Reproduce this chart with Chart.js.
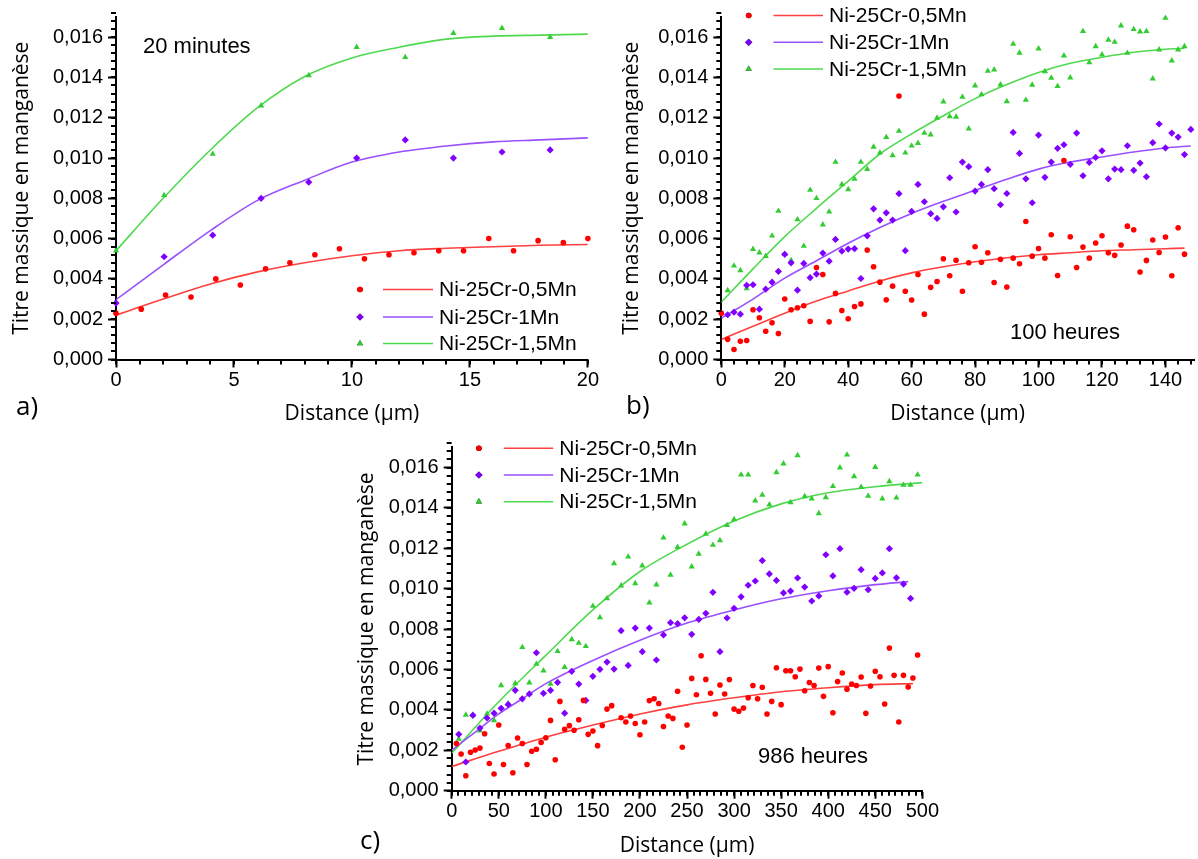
<!DOCTYPE html>
<html><head><meta charset="utf-8">
<script src="https://cdn.jsdelivr.net/npm/chart.js@4.4.1/dist/chart.umd.min.js"></script>
<style>
html,body{margin:0;padding:0;background:#fff;overflow:hidden;width:1198px;height:859px;}
body{position:relative;}
canvas{position:absolute;}
.t{position:absolute;white-space:nowrap;line-height:1;color:#000;}
.ann{font-family:"Liberation Sans",Arial,sans-serif;font-size:22px;}
.let{font-family:"Open Sans",sans-serif;font-size:26px;}
</style></head><body>
<canvas id="ca" width="600" height="430" style="left:0;top:0"></canvas>
<canvas id="cb" width="598" height="430" style="left:600px;top:0"></canvas>
<canvas id="cc" width="600" height="429" style="left:340px;top:430px"></canvas>
<div class="t ann" style="left:143px;top:35px">20 minutes</div>
<div class="t ann" style="left:1010px;top:321px">100 heures</div>
<div class="t ann" style="left:758px;top:745px">986 heures</div>
<div class="t let" style="left:16px;top:392px">a)</div>
<div class="t let" style="left:626px;top:391px">b)</div>
<div class="t let" style="left:360px;top:826px">c)</div>
<script>
// ---------- data : panel a (20 minutes) ----------
const SERIES = ['Ni-25Cr-0,5Mn','Ni-25Cr-1Mn','Ni-25Cr-1,5Mn'];
const A_RED_X = [0,1.07,2.1,3.18,4.23,5.27,6.34,7.37,8.43,9.47,10.53,11.57,12.63,13.68,14.73,15.8,16.85,17.89,18.96,20];
const A_RED_Y = [0.0023,0.0025,0.0032,0.0031,0.0040,0.0037,0.0045,0.0048,0.0052,0.0055,0.0050,0.0052,0.0053,0.0054,0.0054,0.0060,0.0054,0.0059,0.0058,0.0060];
const A_MN_X = [0,2.04,4.1,6.15,8.17,10.2,12.26,14.3,16.36,18.4];
const A_PUR_Y = [0.0028,0.0051,0.00617,0.0080,0.0088,0.0100,0.0109,0.0100,0.0103,0.0104];
const A_GRN_Y = [0.0054,0.00815,0.0102,0.0126,0.0141,0.0155,0.0150,0.0162,0.01645,0.0160];
const A_FIT_X = [0,2,4,6,8,10,12,14,16,18,20];
const A_FIT_RED = [0.0022,0.0030,0.00375,0.00435,0.0048,0.00515,0.0054,0.00552,0.0056,0.00567,0.00571];
const A_FIT_PUR = [0.00297,0.0047,0.0064,0.0079,0.0089,0.0098,0.0103,0.0106,0.0108,0.0109,0.0110];
const A_FIT_GRN = [0.0054,0.0080,0.0104,0.0125,0.01405,0.01497,0.0155,0.0159,0.01605,0.0161,0.01615];

// ---------- data : panel b (100 heures) ----------
const B_X = [0,2,4,6,8,10,12,14,16,18,20,22,24,26,28,30,32,34,36,38,40,42,44,46,48,50,52,54,56,58,60,62,64,66,68,70,72,74,76,78,80,82,84,86,88,90,92,94,96,98,100,102,104,106,108,110,112,114,116,118,120,122,124,126,128,130,132,134,136,138,140,142,144,146,148];
const B_RED = [0.0023,0.0010,0.0005,0.0009,0.00094,0.00247,0.00207,0.0014,0.00182,0.00129,0.0030,0.00247,0.00257,0.00267,0.00189,0.00457,0.00422,0.00187,0.00328,0.00243,0.00202,0.00263,0.00276,0.00543,0.0046,0.00384,0.00296,0.00364,0.01308,0.00339,0.00295,0.00422,0.00225,0.00358,0.00387,0.0050,0.00416,0.00493,0.00339,0.0048,0.0056,0.00483,0.0053,0.00382,0.00497,0.0036,0.00503,0.00475,0.00685,0.00513,0.00551,0.00503,0.00619,0.00417,0.00988,0.00609,0.00457,0.00558,0.00503,0.00578,0.00614,0.0053,0.00517,0.00568,0.00662,0.00644,0.00434,0.00492,0.00593,0.00531,0.00608,0.00416,0.00654,0.00523,null];
const B_PUR = [null,0.00222,0.00235,0.00225,0.00368,0.00371,0.0025,0.00349,0.00384,0.00437,0.00522,0.0048,0.00344,0.00477,0.00406,0.00424,0.00528,0.00488,0.00596,0.00538,0.00548,0.0055,0.00402,0.00614,0.00748,0.00692,0.00728,0.00692,0.00823,0.0054,0.00735,0.00869,0.00783,0.00724,0.0070,0.00758,0.00902,0.00732,0.0098,0.00957,0.00836,0.00869,0.00942,0.00848,0.00768,0.00824,0.01127,0.01023,0.00897,0.00778,0.01114,0.00904,0.0098,0.01048,0.01066,0.00969,0.01124,0.00912,0.00978,0.01003,0.01036,0.00897,0.00945,0.00942,0.01061,0.00939,0.00975,0.00907,0.01076,0.01169,0.0105,0.01124,0.01104,0.01017,0.01142];
const B_GRN = [null,0.00343,0.00465,0.00442,0.00353,0.00548,0.0053,0.00513,0.00614,0.00737,0.00523,0.00492,0.00695,0.00563,0.00841,0.0080,0.00669,0.00733,0.0098,0.00869,0.00844,0.00896,0.0098,0.00945,0.01055,0.01026,0.01103,0.01013,0.01134,0.01026,0.01061,0.01074,0.01124,0.01116,0.01199,0.0128,0.01207,0.01204,0.01303,0.01146,0.01359,0.01315,0.01432,0.01439,0.01364,0.01281,0.01566,0.01522,0.01288,0.01363,0.01543,0.0143,0.01398,0.01356,0.01508,0.01399,null,0.01629,0.01474,0.01554,0.01513,0.01586,0.01576,0.01657,0.01521,0.01639,0.01627,0.01629,0.01394,0.01538,0.01695,0.01483,0.01538,0.01554,null];
const B_FIT_X = [0,10,20,30,40,50,60,70,80,90,100,110,120,130,140,146];
const B_FIT_RED = [0.00099,0.00165,0.0023,0.0029,0.0034,0.0039,0.0043,0.0046,0.00485,0.00505,0.0052,0.0053,0.0054,0.00545,0.0055,0.00553];
const B_FIT_PUR_X = [0,10,20,30,40,50,60,70,80,90,100,110,120,130,140,148];
const B_FIT_PUR = [0.00205,0.0030,0.00404,0.0049,0.00577,0.00655,0.00725,0.00785,0.0084,0.00895,0.00945,0.0098,0.01005,0.0103,0.0105,0.0106];
const B_FIT_GRN = [0.00285,0.0045,0.0061,0.0075,0.00885,0.0102,0.0112,0.0121,0.01295,0.01365,0.01425,0.0147,0.0150,0.01525,0.0154,0.01545];

// ---------- data : panel c (986 heures) ----------
const C_RED_X = [5,10,15,20,25,30,35,40,45,50,55,60,65,70,75,80,85,90,95,100,105,110,115,120,125,130,135,140,145,150,155,160,165,170,180,185,190,195,200,205,210,215,220,225,230,235,240,245,250,255,260,265,270,275,280,285,290,295,300,305,310,315,320,325,330,335,340,345,350,355,360,365,370,375,380,385,390,395,400,405,410,415,420,425,430,435,440,445,450,455,460,465,470,475,480,485,490,495];
const C_RED = [0.00234,0.00182,0.00074,0.0019,0.00201,0.00211,0.00282,0.00135,0.00083,0.00325,0.0013,0.00224,0.00089,0.00261,0.00234,0.0013,0.00195,0.00205,0.00239,0.00262,0.00348,0.00153,0.00442,0.00304,0.00322,0.00299,0.00351,0.00447,0.00279,0.00295,0.00223,0.00323,0.00404,0.00421,0.00361,0.0034,0.0037,0.00333,0.00277,0.0034,0.00446,0.00455,0.00432,0.00318,0.0037,0.00358,0.00492,0.00215,0.00325,0.00556,0.00475,0.00668,0.00551,0.00482,0.0038,0.00523,0.00479,0.0055,0.00404,0.00393,0.00409,0.0046,0.00521,0.00455,0.00512,0.0038,0.00442,0.00609,0.00426,0.00594,0.00594,0.00564,0.00602,0.00495,0.00536,0.00521,0.00607,0.00467,0.00614,0.00386,0.0054,0.00583,0.00502,0.00528,0.00521,0.00563,0.00383,0.00518,0.00591,0.00564,0.00429,0.00706,0.00571,0.0034,0.00571,0.00513,0.00558,0.00672];
const C_MN_X = [7.5,15,22.5,30,37.5,45,52.5,60,67.5,75,82.5,90,97.5,105,112.5,120,127.5,135,142.5,150,157.5,165,172.5,180,187.5,195,202.5,210,217.5,225,232.5,240,247.5,255,262.5,270,277.5,285,292.5,300,307.5,315,322.5,330,337.5,345,352.5,360,367.5,375,382.5,390,397.5,405,412.5,420,427.5,435,442.5,450,457.5,465,472.5,480,487.5,495];
const C_PUR = [0.00279,0.00142,0.00373,0.0031,0.0036,0.00384,0.00408,0.00427,0.00497,0.00455,0.00479,0.00683,0.00482,0.00497,0.00536,0.00384,0.00591,0.00528,0.00447,0.00566,0.00601,0.00637,0.00602,0.00792,0.0062,0.00805,0.00688,0.00805,0.00647,0.00771,0.00832,0.00827,0.00856,0.00774,0.00848,0.00878,0.00982,0.00688,0.00855,0.00903,0.0096,0.01017,0.01038,0.01139,0.01073,0.01041,0.00979,0.00988,0.01053,0.01008,0.00939,0.00964,0.01168,0.01063,0.01198,0.00983,0.01002,0.01094,0.00995,0.01051,0.01078,0.01198,0.01054,0.01023,0.00952,null];
const C_GRN = [0.00256,0.00375,0.00375,0.00297,0.00381,0.00348,0.00521,0.00431,0.00531,0.0071,0.00535,0.00627,0.00594,0.00528,0.0069,0.00612,0.00749,0.00731,0.00715,0.00914,0.00858,0.00952,0.01125,0.01015,0.01158,0.01026,0.01114,0.00931,0.0102,0.01252,0.01068,0.01206,0.01322,0.01109,0.01172,0.01271,0.01216,0.01239,0.01314,0.01343,0.01564,0.01564,0.01436,0.01464,0.01416,0.01576,0.01619,0.01427,0.0166,0.01457,0.01446,0.01373,0.01452,0.01507,0.01599,0.01663,0.01556,0.01503,0.01459,0.01602,0.01446,0.01531,0.0145,0.01513,0.01513,0.01564];
const C_FIT_RED_X = [0,50,100,150,200,250,300,350,400,450,490];
const C_FIT_RED = [0.0012,0.00195,0.00265,0.00325,0.0038,0.00425,0.0046,0.0049,0.0051,0.00525,0.0053];
const C_FIT_PUR_X = [0,25,50,75,100,150,200,250,300,350,400,450,485];
const C_FIT_PUR = [0.0020,0.0029,0.0038,0.00455,0.0053,0.00645,0.00745,0.0083,0.00895,0.0095,0.0099,0.0102,0.01035];
const C_FIT_GRN_X = [0,50,100,150,200,250,300,350,400,450,500];
const C_FIT_GRN = [0.00185,0.0044,0.0067,0.00895,0.01085,0.0122,0.01335,0.0142,0.01475,0.01505,0.01525];

// ---------- styling ----------
const COL_PT = ['#ff0000','#8000ff','#33cc33'];
const COL_LN = ['#ff4040','#9a50ff','#4fd94f'];
const PSTYLE = ['circle','rectRot','triangle'];
const PRAD = [2.8,3.6,3.6];
const TICKF = '"Liberation Sans", Arial, sans-serif';
const TITLEF = '"Open Sans", sans-serif';

function pts(xs, ys){ const o=[]; for(let i=0;i<xs.length;i++){ if(ys[i]!==null && ys[i]!==undefined) o.push({x:xs[i],y:ys[i]}); } return o; }

const minorTicks = {
  id:'minorTicks',
  afterDraw(chart, args, o){
    const ctx=chart.ctx, xs=chart.scales.x, ys=chart.scales.y;
    ctx.save(); ctx.strokeStyle='#000'; ctx.lineWidth=2;
    const n = Math.round((xs.max-xs.min)/o.x);
    for(let i=0;i<=n;i++){ const v=xs.min+i*o.x; if(v>xs.max+1e-9) break; const p=Math.round(xs.getPixelForValue(v));
      ctx.beginPath(); ctx.moveTo(p, xs.top); ctx.lineTo(p, xs.top+5); ctx.stroke(); }
    const m = Math.round((ys.max-ys.min)/o.y);
    for(let i=0;i<=m;i++){ const v=ys.min+i*o.y; const p=Math.round(ys.getPixelForValue(v));
      ctx.beginPath(); ctx.moveTo(ys.right, p); ctx.lineTo(ys.right-5, p); ctx.stroke(); }
    ctx.restore();
  }
};
const legendBox = {
  id:'legendBox',
  afterDraw(chart, args, o){
    const ctx=chart.ctx; ctx.save();
    ctx.font = '21px '+TICKF; ctx.textBaseline='middle'; ctx.fillStyle='#000';
    for(let k=0;k<3;k++){
      const y=o.rows[k];
      Chart.helpers.drawPoint(ctx,{pointStyle:PSTYLE[k],radius:PRAD[k],borderWidth:0,rotation:0},o.mx,y);
      ctx.fillStyle=COL_PT[k]; ctx.fill();
      ctx.strokeStyle=COL_LN[k]; ctx.lineWidth=1.6; ctx.beginPath(); ctx.moveTo(o.lx1,y); ctx.lineTo(o.lx2,y); ctx.stroke();
      ctx.fillStyle='#000'; ctx.fillText(SERIES[k], o.tx, y+1);
    }
    ctx.restore();
  }
};

function build(id, cfg){
  const ds = [];
  cfg.fits.forEach((f,k)=>ds.push({type:'line', data:pts(f[0],f[1]), borderColor:COL_LN[k], borderWidth:1.6, pointRadius:0, fill:false, cubicInterpolationMode:'monotone', order:2}));
  cfg.points.forEach((p,k)=>ds.push({type:'scatter', data:pts(p[0],p[1]), backgroundColor:COL_PT[k], borderWidth:0, pointStyle:PSTYLE[k], pointRadius:PRAD[k], clip:false, order:1}));
  const o = cfg.off;
  return new Chart(document.getElementById(id), {
    type:'scatter',
    data:{datasets:ds},
    options:{
      responsive:false, animation:false, events:[],
      layout:{padding:{left:0, top:cfg.top, right:cfg.right, bottom:0}},
      plugins:{legend:{display:false}, tooltip:{enabled:false},
        minorTicks:{x:cfg.xminor, y:0.0004},
        legendBox:{mx:cfg.leg.mx-o[0], lx1:cfg.leg.l1-o[0], lx2:cfg.leg.l2-o[0], tx:cfg.leg.tx-o[0], rows:cfg.leg.rows.map(r=>r-o[1])}},
      scales:{
        x:{type:'linear', min:0, max:cfg.xmax, afterFit:s=>{s.height=cfg.xh;},
          border:{display:true, color:'#000', width:2},
          grid:{display:true, drawOnChartArea:false, drawTicks:true, tickLength:8, tickWidth:2, color:'#000'},
          ticks:{stepSize:cfg.xstep, includeBounds:false, autoSkip:false, maxRotation:0, color:'#000', padding:1, font:{family:TICKF, size:20}, callback:v=>String(v)},
          title:{display:true, text:'Distance (µm)', color:'#000', font:{family:TITLEF, size:21}, padding:{top:0, bottom:cfg.xtp}}},
        y:{type:'linear', min:0, max:0.017, afterFit:s=>{s.width=cfg.yw;},
          border:{display:true, color:'#000', width:2},
          grid:{display:true, drawOnChartArea:false, drawTicks:true, tickLength:8, tickWidth:2, color:'#000'},
          ticks:{stepSize:0.002, includeBounds:false, color:'#000', padding:5, font:{family:TICKF, size:20}, callback:v=>v.toFixed(3).replace('.',',')},
          title:{display:true, text:'Titre massique en manganèse', color:'#000', font:{family:TITLEF, size:21}, padding:{top:cfg.ytp, bottom:0}}}
      }
    },
    plugins:[minorTicks, legendBox]
  });
}

build('ca', {off:[0,0], top:16.6, right:4, xh:70.5, yw:116, xmax:20, xstep:5, xminor:1, xtp:3.4, ytp:9.4,
  leg:{mx:360, l1:383, l2:433, tx:439, rows:[289.5,317,343.5]},
  points:[[A_RED_X,A_RED_Y],[A_MN_X,A_PUR_Y],[A_MN_X,A_GRN_Y]],
  fits:[[A_FIT_X,A_FIT_RED],[A_FIT_X,A_FIT_PUR],[A_FIT_X,A_FIT_GRN]]});
build('cb', {off:[600,0], top:16.6, right:0, xh:70.5, yw:121.3, xmax:149, xstep:20, xminor:4, xtp:3.4, ytp:19.4,
  leg:{mx:748.7, l1:773.5, l2:823, tx:829, rows:[15.5,42.3,69]},
  points:[[B_X,B_RED],[B_X,B_PUR],[B_X,B_GRN]],
  fits:[[B_FIT_X,B_FIT_RED],[B_FIT_PUR_X,B_FIT_PUR],[B_FIT_X,B_FIT_GRN]]});
build('cc', {off:[340,430], top:17.3, right:8.7, xh:68.3, yw:111.7, xmax:500, xstep:50, xminor:50/7, xtp:0, ytp:14.4,
  leg:{mx:478.9, l1:503.8, l2:553.2, tx:559.3, rows:[448.3,475,501.7]},
  points:[[C_RED_X,C_RED],[C_MN_X,C_PUR],[C_MN_X,C_GRN]],
  fits:[[C_FIT_RED_X,C_FIT_RED],[C_FIT_PUR_X,C_FIT_PUR],[C_FIT_GRN_X,C_FIT_GRN]]});
</script>
</body></html>
